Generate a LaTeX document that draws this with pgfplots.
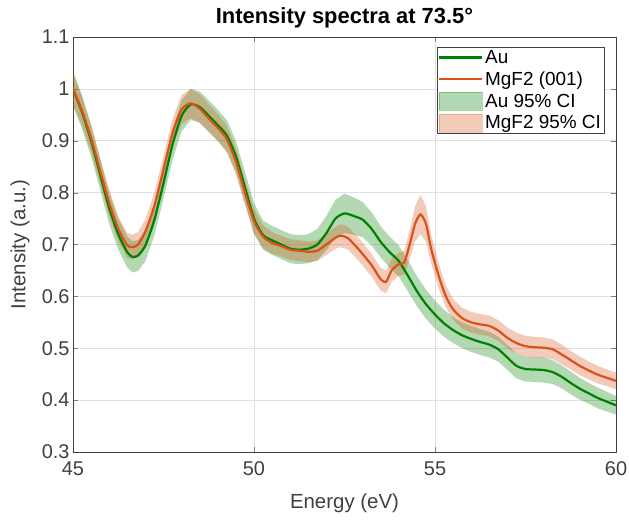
\documentclass[border=0pt]{standalone}
\usepackage{fontspec}
\setmainfont{Liberation Sans}
\usepackage{pgfplots}
\usepackage{pgfplotstable}
\pgfplotsset{compat=1.18}
\usepgfplotslibrary{fillbetween}

\definecolor{aucol}{rgb}{0,0.5,0}
\definecolor{mgcol}{rgb}{0.85,0.325,0.098}

\pgfplotsset{
  lineleg/.style={legend image code/.code={\draw[##1] (0bp,0bp) -- (43bp,0bp);}},
}

% E = energy (eV), m = mean intensity, e = half width of the 95% CI
\pgfplotstableread{
E m e
45.0 1.000 0.034
45.25 0.955 0.032
45.5 0.900 0.030
45.75 0.835 0.030
46.0 0.770 0.030
46.25 0.720 0.030
46.5 0.685 0.030
46.65 0.676 0.030
46.8 0.679 0.030
47.0 0.698 0.030
47.25 0.748 0.030
47.5 0.818 0.030
47.75 0.893 0.030
48.0 0.948 0.030
48.25 0.970 0.030
48.5 0.965 0.030
48.75 0.948 0.030
49.0 0.930 0.030
49.25 0.910 0.030
49.5 0.870 0.030
49.75 0.810 0.030
50.0 0.750 0.030
50.25 0.718 0.028
50.5 0.708 0.028
50.75 0.700 0.028
51.0 0.692 0.028
51.25 0.690 0.028
51.5 0.692 0.028
51.75 0.700 0.030
52.0 0.722 0.033
52.25 0.750 0.036
52.5 0.760 0.038
52.75 0.755 0.036
53.0 0.748 0.034
53.25 0.730 0.032
53.5 0.705 0.030
53.75 0.685 0.030
54.0 0.668 0.030
54.25 0.640 0.030
54.5 0.610 0.029
54.75 0.585 0.028
55.0 0.565 0.027
55.25 0.548 0.026
55.5 0.535 0.025
55.75 0.525 0.025
56.0 0.518 0.025
56.25 0.512 0.025
56.5 0.507 0.025
56.75 0.498 0.024
57.0 0.482 0.024
57.25 0.466 0.024
57.5 0.460 0.024
57.75 0.459 0.024
58.0 0.458 0.024
58.25 0.454 0.023
58.5 0.445 0.022
58.75 0.433 0.022
59.0 0.422 0.021
59.25 0.413 0.020
59.5 0.404 0.020
59.75 0.397 0.019
60.0 0.390 0.018
}\audata

\pgfplotstableread{
E m e
45.0 1.000 0.030
45.25 0.958 0.028
45.5 0.905 0.026
45.75 0.842 0.025
46.0 0.780 0.025
46.25 0.730 0.024
46.5 0.698 0.024
46.65 0.695 0.024
46.8 0.700 0.024
47.0 0.725 0.024
47.25 0.775 0.025
47.5 0.845 0.026
47.75 0.915 0.027
48.0 0.960 0.028
48.25 0.972 0.028
48.5 0.962 0.028
48.75 0.943 0.027
49.0 0.925 0.026
49.25 0.903 0.026
49.5 0.860 0.025
49.75 0.800 0.024
50.0 0.745 0.023
50.25 0.715 0.022
50.5 0.703 0.021
50.75 0.697 0.020
51.0 0.690 0.020
51.25 0.688 0.020
51.5 0.686 0.020
51.75 0.688 0.020
52.0 0.700 0.020
52.25 0.713 0.021
52.4 0.717 0.022
52.6 0.712 0.022
52.9 0.690 0.022
53.25 0.660 0.022
53.5 0.633 0.022
53.65 0.628 0.022
53.8 0.650 0.022
54.0 0.662 0.022
54.15 0.665 0.023
54.3 0.700 0.028
54.45 0.740 0.034
54.6 0.758 0.038
54.75 0.740 0.034
54.9 0.690 0.028
55.1 0.640 0.024
55.3 0.600 0.021
55.5 0.575 0.020
55.75 0.558 0.020
56.0 0.550 0.020
56.25 0.546 0.020
56.5 0.543 0.020
56.75 0.534 0.020
57.0 0.520 0.020
57.25 0.510 0.020
57.5 0.504 0.020
57.75 0.502 0.020
58.0 0.501 0.020
58.25 0.498 0.019
58.5 0.488 0.019
58.75 0.477 0.018
59.0 0.466 0.018
59.25 0.457 0.017
59.5 0.449 0.017
59.75 0.443 0.016
60.0 0.437 0.016
}\mgdata

\begin{document}
\begin{tikzpicture}
\begin{axis}[
  width=543bp, height=415bp, scale only axis,
  xmin=45, xmax=60, ymin=0.3, ymax=1.1,
  xtick={45,50,55,60},
  ytick={0.3,0.4,0.5,0.6,0.7,0.8,0.9,1,1.1},
  yticklabels={0.3,0.4,0.5,0.6,0.7,0.8,0.9,1,1.1},
  tick align=inside, tick pos=both,
  major tick length=5bp,
  axis line style={draw=black!75, line width=0.6pt},
  grid=major, grid style={black!12, line width=0.5pt},
  xlabel={Energy (eV)}, ylabel={Intensity (a.u.)},
  title={\bfseries Intensity spectra at 73.5°},
  title style={font=\fontsize{22}{24}\selectfont,
    at={([yshift=8bp]axis description cs:0.5,1)}, anchor=base},
  label style={font=\fontsize{20.5}{23}\selectfont, text=black!75},
  tick label style={font=\fontsize{20}{22}\selectfont, text=black!75},
  /pgf/number format/assume math mode=true,
  xticklabel style={anchor=base, yshift=-23bp},
  yticklabel style={anchor=east, xshift=0bp},
  xlabel style={at={([yshift=-56bp]axis description cs:0.5,0)}, anchor=base},
  ylabel style={at={([xshift=-53bp]axis description cs:0,0.5)}, anchor=center},
  legend cell align=left,
  legend style={at={(0.978,0.976)}, anchor=north east,
    font=\fontsize{19}{20}\selectfont, draw=black!75,
    inner sep=1pt, row sep=3pt},
]
\addplot[name path=aup, draw=none, forget plot] table[x=E, y expr=\thisrow{m}+\thisrow{e}] {\audata};
\addplot[name path=alo, draw=none, forget plot] table[x=E, y expr=\thisrow{m}-\thisrow{e}] {\audata};
\addplot[fill=aucol, fill opacity=0.3, draw=none, forget plot] fill between[of=aup and alo];
\addplot[name path=mup, draw=none, forget plot] table[x=E, y expr=\thisrow{m}+\thisrow{e}] {\mgdata};
\addplot[name path=mlo, draw=none, forget plot] table[x=E, y expr=\thisrow{m}-\thisrow{e}] {\mgdata};
\addplot[fill=mgcol, fill opacity=0.3, draw=none, forget plot] fill between[of=mup and mlo];

\addplot[color=aucol, line width=2.2pt, smooth, tension=0.4, lineleg] table[x=E, y=m] {\audata};
\addlegendentry{Au}
\addplot[color=mgcol, line width=2.2pt, smooth, tension=0.4, lineleg] table[x=E, y=m] {\mgdata};
\addlegendentry{MgF2 (001)}
\addlegendimage{legend image code/.code={\fill[aucol, opacity=0.3] (0bp,-9bp) rectangle (43bp,9bp);}}
\addlegendentry{Au 95\% CI}
\addlegendimage{legend image code/.code={\fill[mgcol, opacity=0.3] (0bp,-9bp) rectangle (43bp,9bp);}}
\addlegendentry{MgF2 95\% CI}
\end{axis}
\pgfresetboundingbox
\path[use as bounding box] ([shift={(-73bp,-68bp)}]current axis.south west)
  rectangle ([shift={(13bp,37bp)}]current axis.north east);
\end{tikzpicture}
\end{document}
